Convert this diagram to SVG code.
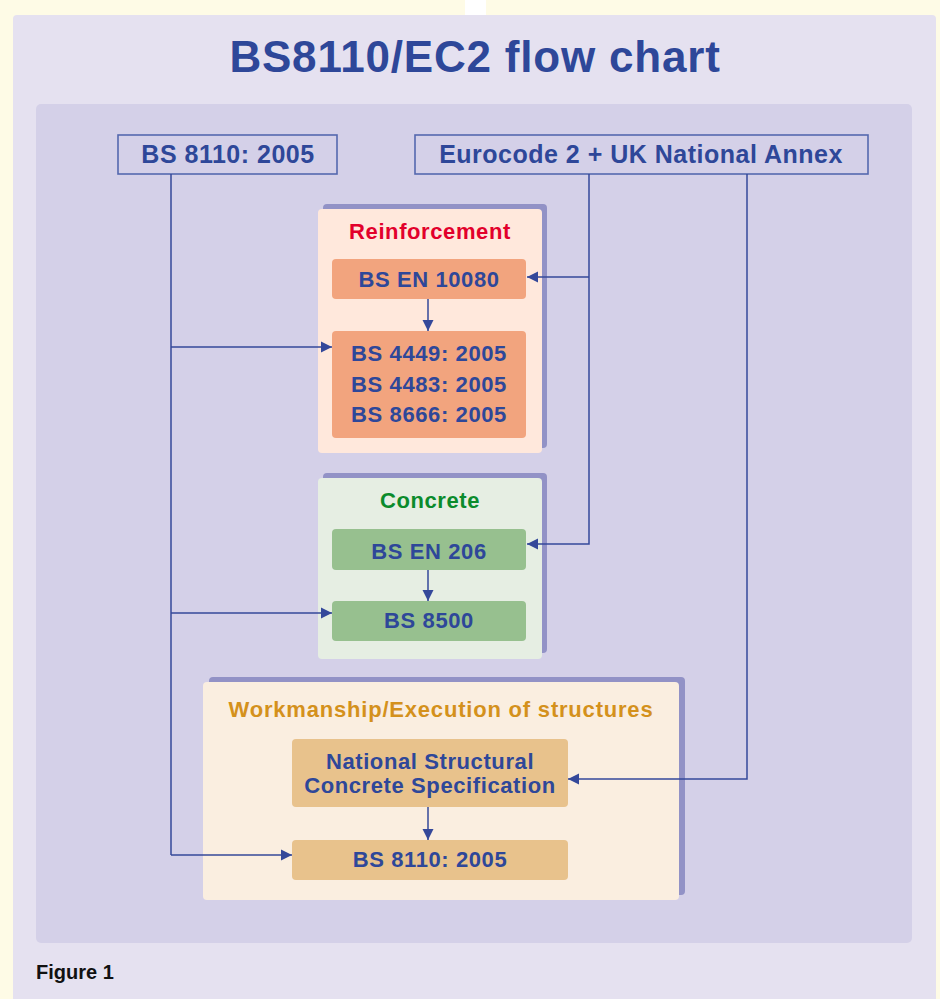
<svg xmlns="http://www.w3.org/2000/svg" width="940" height="999" viewBox="0 0 940 999">
<defs>
<style>
text{font-family:"Liberation Sans",Arial,sans-serif;font-weight:bold;text-anchor:middle}
.t{fill:#2E4799;font-size:22px;letter-spacing:0.6px}
.top{fill:#2E4799;font-size:25px;letter-spacing:0.5px}
.hdr{fill:#D4D0E8;stroke:#5468AE;stroke-width:1.6}
.sh{fill:#9292C6}
.ln{fill:none;stroke:#34489A;stroke-width:1.5}
.ar{fill:none;stroke:#34489A;stroke-width:1.5;marker-end:url(#ah)}
</style>
<marker id="ah" markerUnits="userSpaceOnUse" markerWidth="12" markerHeight="12" refX="11" refY="6" orient="auto">
<path d="M0,0.5 L11,6 L0,11.5 z" fill="#34489A"/>
</marker>
</defs>
<rect x="0" y="0" width="940" height="999" fill="#FEFBE6"/>
<rect x="465" y="0" width="21" height="16" fill="#FFFFFF"/>
<rect x="13" y="15" width="923" height="1000" rx="4" fill="#E5E1F0"/>
<rect x="36" y="104" width="876" height="839" rx="5" fill="#D4D0E8"/>
<text x="475" y="72" style="fill:#2E4799;font-size:44px;letter-spacing:0.8px">BS8110/EC2 flow chart</text>

<g id="bs8110-top">
<rect class="hdr" x="118" y="135" width="219" height="39"/>
<text class="top" x="228" y="163">BS 8110: 2005</text>
</g>
<g id="eurocode">
<rect class="hdr" x="415" y="135" width="453" height="39"/>
<text class="top" x="641" y="163">Eurocode 2 + UK National Annex</text>
</g>

<g id="reinforcement">
<rect class="sh" x="323" y="204" width="224" height="244" rx="4"/>
<rect x="318" y="209" width="224" height="244" rx="4" fill="#FFE8DC"/>
<text x="430" y="239" style="fill:#E2002B;font-size:22px;letter-spacing:0.6px">Reinforcement</text>
</g>
<g id="bs-en-10080">
<rect x="332" y="259" width="194" height="40" rx="4" fill="#F2A47E"/>
<text class="t" x="429" y="287">BS EN 10080</text>
</g>
<g id="bs-4449">
<rect x="332" y="331" width="194" height="107" rx="4" fill="#F2A47E"/>
<text class="t" x="429" y="361">BS 4449: 2005</text>
<text class="t" x="429" y="392">BS 4483: 2005</text>
<text class="t" x="429" y="422">BS 8666: 2005</text>
</g>

<g id="concrete">
<rect class="sh" x="323" y="473" width="224" height="180" rx="4"/>
<rect x="318" y="478" width="224" height="181" rx="4" fill="#E6EEE3"/>
<text x="430" y="508" style="fill:#0B8B2C;font-size:22px;letter-spacing:0.6px">Concrete</text>
</g>
<g id="bs-en-206">
<rect x="332" y="529" width="194" height="41" rx="4" fill="#97C08F"/>
<text class="t" x="429" y="559">BS EN 206</text>
</g>
<g id="bs-8500">
<rect x="332" y="601" width="194" height="40" rx="4" fill="#97C08F"/>
<text class="t" x="429" y="628">BS 8500</text>
</g>

<g id="workmanship">
<rect class="sh" x="209" y="677" width="476" height="218" rx="4"/>
<rect x="203" y="682" width="476" height="218" rx="4" fill="#FAEEE0"/>
<text x="441" y="717" style="fill:#D4911C;font-size:22px;letter-spacing:0.8px">Workmanship/Execution of structures</text>
</g>
<g id="nscs">
<rect x="292" y="739" width="276" height="68" rx="4" fill="#E8C28C"/>
<text class="t" x="430" y="769">National Structural</text>
<text class="t" x="430" y="793">Concrete Specification</text>
</g>
<g id="bs-8110-exec">
<rect x="292" y="840" width="276" height="40" rx="4" fill="#E8C28C"/>
<text class="t" x="430" y="867">BS 8110: 2005</text>
</g>

<g id="connectors">
<path class="ln" d="M171,174 V855"/>
<path class="ar" d="M171,347 H332"/>
<path class="ar" d="M171,613 H332"/>
<path class="ar" d="M171,855 H292"/>
<path class="ar" d="M589,174 V544 H527"/>
<path class="ar" d="M589,277 H527"/>
<path class="ar" d="M747,174 V779 H568"/>
<path class="ar" d="M428,299 V331"/>
<path class="ar" d="M428,570 V601"/>
<path class="ar" d="M428,807 V840"/>
</g>

<text x="36" y="979" style="fill:#111111;font-size:20px;text-anchor:start">Figure 1</text>
</svg>
